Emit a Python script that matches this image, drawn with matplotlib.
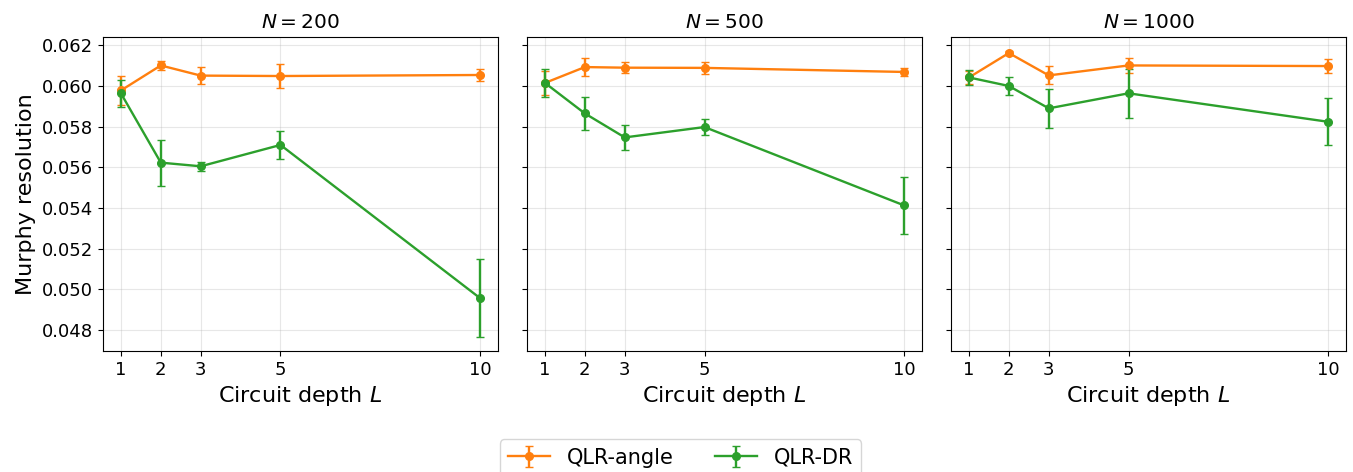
import matplotlib
matplotlib.use("Agg")
import matplotlib.pyplot as plt

depths = [1, 2, 3, 5, 10]
sample_sizes = [200, 500, 1000]

angle_mean = {
    200: [0.05978, 0.06101, 0.06051, 0.06049, 0.06054],
    500: [0.06015, 0.06093, 0.06090, 0.06089, 0.06069],
    1000: [0.06042, 0.06162, 0.06052, 0.06101, 0.06098],
}
angle_err = {
    200: [0.0007, 0.0002, 0.0004, 0.0006, 0.0003],
    500: [0.0006, 0.00043, 0.00026, 0.00028, 0.0002],
    1000: [0.0003, 0.0001, 0.00044, 0.00037, 0.00035],
}
dr_mean = {
    200: [0.05964, 0.05623, 0.05605, 0.05710, 0.04957],
    500: [0.06015, 0.05865, 0.05747, 0.05798, 0.05413],
    1000: [0.06042, 0.06000, 0.05890, 0.05964, 0.05824],
}
dr_err = {
    200: [0.00065, 0.00113, 0.00023, 0.00067, 0.0019],
    500: [0.0007, 0.0008, 0.0006, 0.0004, 0.0014],
    1000: [0.00035, 0.00044, 0.00095, 0.0012, 0.00115],
}

fig = plt.figure(figsize=(13.53, 4.72), dpi=100)
lefts = [0.0761, 0.3895, 0.7029]
axes = []
for i, left in enumerate(lefts):
    if i == 0:
        ax = fig.add_axes([left, 0.2564, 0.2919, 0.6658])
    else:
        ax = fig.add_axes([left, 0.2564, 0.2919, 0.6658], sharey=axes[0])
    axes.append(ax)

for ax, n in zip(axes, sample_sizes):
    ax.errorbar(depths, angle_mean[n], yerr=angle_err[n], color="tab:orange",
                marker="o", markersize=5.5, linewidth=1.7, capsize=3,
                label="QLR-angle")
    ax.errorbar(depths, dr_mean[n], yerr=dr_err[n], color="tab:green",
                marker="o", markersize=5.5, linewidth=1.7, capsize=3,
                label="QLR-DR")
    ax.set_title(f"$N = {n}$", fontsize=14.5)
    ax.set_xticks(depths)
    ax.set_xlabel("Circuit depth $L$", fontsize=16)
    ax.grid(True, alpha=0.3)
    ax.tick_params(labelsize=13)

for ax in axes[1:]:
    ax.tick_params(labelleft=False)

axes[0].set_ylabel("Murphy resolution", fontsize=16)
axes[0].set_yticks([0.048, 0.050, 0.052, 0.054, 0.056, 0.058, 0.060, 0.062])

handles, labels = axes[0].get_legend_handles_labels()
fig.legend(handles, labels, loc="upper center", bbox_to_anchor=(0.503, 1 - 429 / 472),
           ncol=2, fontsize=15, frameon=True, columnspacing=2.0)

fig.savefig("out.png", dpi=100)
